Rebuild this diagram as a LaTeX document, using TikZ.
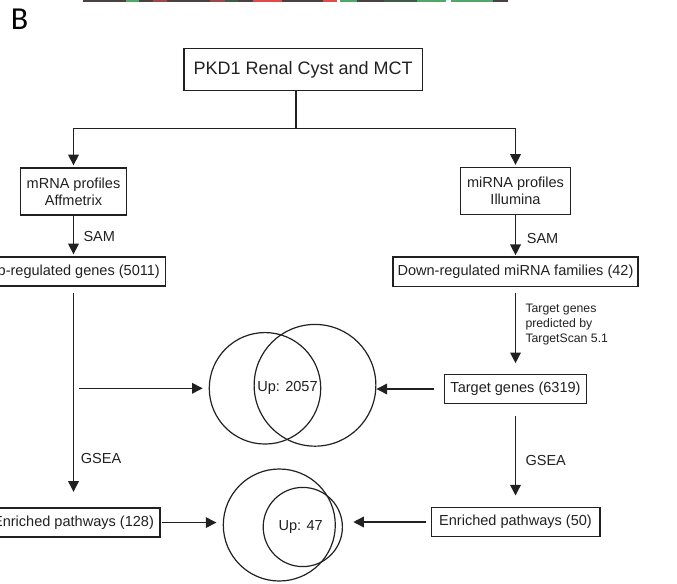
\documentclass[tikz,border=0pt]{standalone}
\usepackage{fontspec}
\setmainfont{Liberation Sans}
\newfontfamily\panelfont{Carlito}
\usetikzlibrary{arrows.meta, positioning}
\definecolor{ink}{gray}{0.13}
\definecolor{hmdark}{HTML}{4A4242}
\definecolor{hmred}{HTML}{E04A4A}
\definecolor{hmmuted}{HTML}{A04848}
\definecolor{hmgreen}{HTML}{4FA866}
\definecolor{hmdkgreen}{HTML}{3F5A48}
\tikzset{%
>={Triangle[width=8pt,length=8pt]},
  % Specifications for style of nodes:
            box/.style = {rectangle, draw=ink, line width=1pt, fill=white,
                            text=ink, minimum height=21.75pt, inner xsep=4.5pt,
                            font=\fontsize{10.9}{12.75}\selectfont},
            twoline/.style = {box, align=center, minimum height=35.25pt, inner xsep=4.7pt},
            ring/.style = {circle, draw=ink, line width=0.9pt, inner sep=0pt},
            tag/.style = {inner sep=0pt, text=ink, font=\fontsize{10.9}{13}\selectfont},
            note/.style = {inner sep=0pt, text=ink, align=left,
                            font=\fontsize{9.2}{11.25}\selectfont},
            flow/.style = {->, draw=ink, line width=1pt}
}
\begin{document}
\begin{tikzpicture}[x=0.75pt, y=-0.75pt]
                \useasboundingbox (0,0) rectangle (677,584);
                \clip (0,0) rectangle (677,584);

                % strip left over from the panel above
                \foreach \xa/\xb/\c in {82.7/126/hmdark, 126/139.3/hmgreen, 139.3/153.3/hmdark,
                    153.3/167.3/hmmuted, 167.3/210/hmdark, 210/225/hmmuted, 225/238.3/hmdkgreen,
                    238.3/253.3/hmdark, 253.3/281.7/hmred, 281.7/323.3/hmdark, 323.3/337.3/hmred,
                    340/357/hmgreen, 357/384/hmdark, 384/417/hmdkgreen, 417/446/hmgreen,
                    450.6/480/hmgreen, 480/493/hmgreen, 493/508/hmdark}
                    \fill[\c] (\xa,0) rectangle (\xb,1.6);

                \node[inner sep=0pt, font=\panelfont\fontsize{24}{26}\selectfont] (panelB) at (19.7,18.8) {B};

                \node[box, font=\fontsize{13.5}{16}\selectfont, minimum height=31.8pt, inner xsep=7.2pt]
                    (source) at (303.2,69.5) {PKD1 Renal Cyst and MCT};
                \coordinate (fork) at (296,128.3);

                % mRNA side
                \node[twoline] (mrna) at (73.5,191.5) {mRNA profiles\\Affmetrix};
                \node[box, below of=mrna, node distance=60pt] (upgenes) {Up-regulated genes (5011)};
                \node[box, below of=upgenes, node distance=188.3pt] (enrleft) {Enriched pathways (128)};

                % miRNA side
                \node[twoline] (mirna) at (515.5,191) {miRNA profiles\\Illumina};
                \node[box, below of=mirna, node distance=60.5pt, inner xsep=3.4pt] (downmir) {Down-regulated miRNA families (42)};
                \node[box, below of=downmir, node distance=88pt] (targets) {Target genes (6319)};
                \node[box, below of=targets, node distance=99.75pt, inner xsep=6pt] (enrright) {Enriched pathways (50)};

                % overlaps
                \node[ring, minimum size=83.6pt] (upA) at (265,388.3) {};
                \node[ring, minimum size=91.3pt] (upB) at (315,385.3) {};
                \node[tag] (upcount) at (287.5,388) {Up: 2057};
                \node[ring, minimum size=84pt] (lowA) at (279.3,525) {};
                \node[ring, minimum size=59.4pt] (lowB) at (302.8,527) {};
                \node[tag] (lowcount) at (300.7,527.3) {Up: 47};

                \draw[draw=ink, line width=1pt] (source.south -| fork) -- (fork);
                \draw[flow, shorten >=1.5pt] (fork) -| (mrna);
                \draw[flow, shorten >=1.5pt] (fork) -| (mirna);

                \draw[flow, shorten >=1.5pt] (mrna) -- (upgenes) node[tag, midway, right=7pt] {SAM};
                \draw[flow, shorten <=5pt, shorten >=11.7pt] (upgenes) -- (enrleft)
                    node[tag, pos=0.78, right=5pt] {GSEA};

                \draw[flow, shorten >=1pt] (mirna) -- (downmir) node[tag, pos=0.56, right=8pt] {SAM};
                \draw[flow, shorten <=4.3pt, shorten >=8pt] (downmir) -- (targets)
                    node[note, pos=0.43, right=7pt] {Target genes\\predicted by\\TargetScan 5.1};
                \draw[flow, shorten <=9pt, shorten >=8.5pt] (targets) -- (enrright)
                    node[tag, pos=0.55, right=7pt] {GSEA};

                \coordinate (feed) at (79,388.3);
                \draw[flow, shorten >=4.5pt] (feed) -- (upA.west);
                \draw[flow, shorten <=7.5pt] (targets) -- (targets -| upB.east);
                \draw[flow, shorten <=1pt, shorten >=4.7pt] (enrleft) -- (enrleft -| lowA.west);
                \draw[flow, shorten <=3.3pt, shorten >=7.7pt] (enrright) -- (enrright -| lowB.east);

            \end{tikzpicture}
\end{document}
